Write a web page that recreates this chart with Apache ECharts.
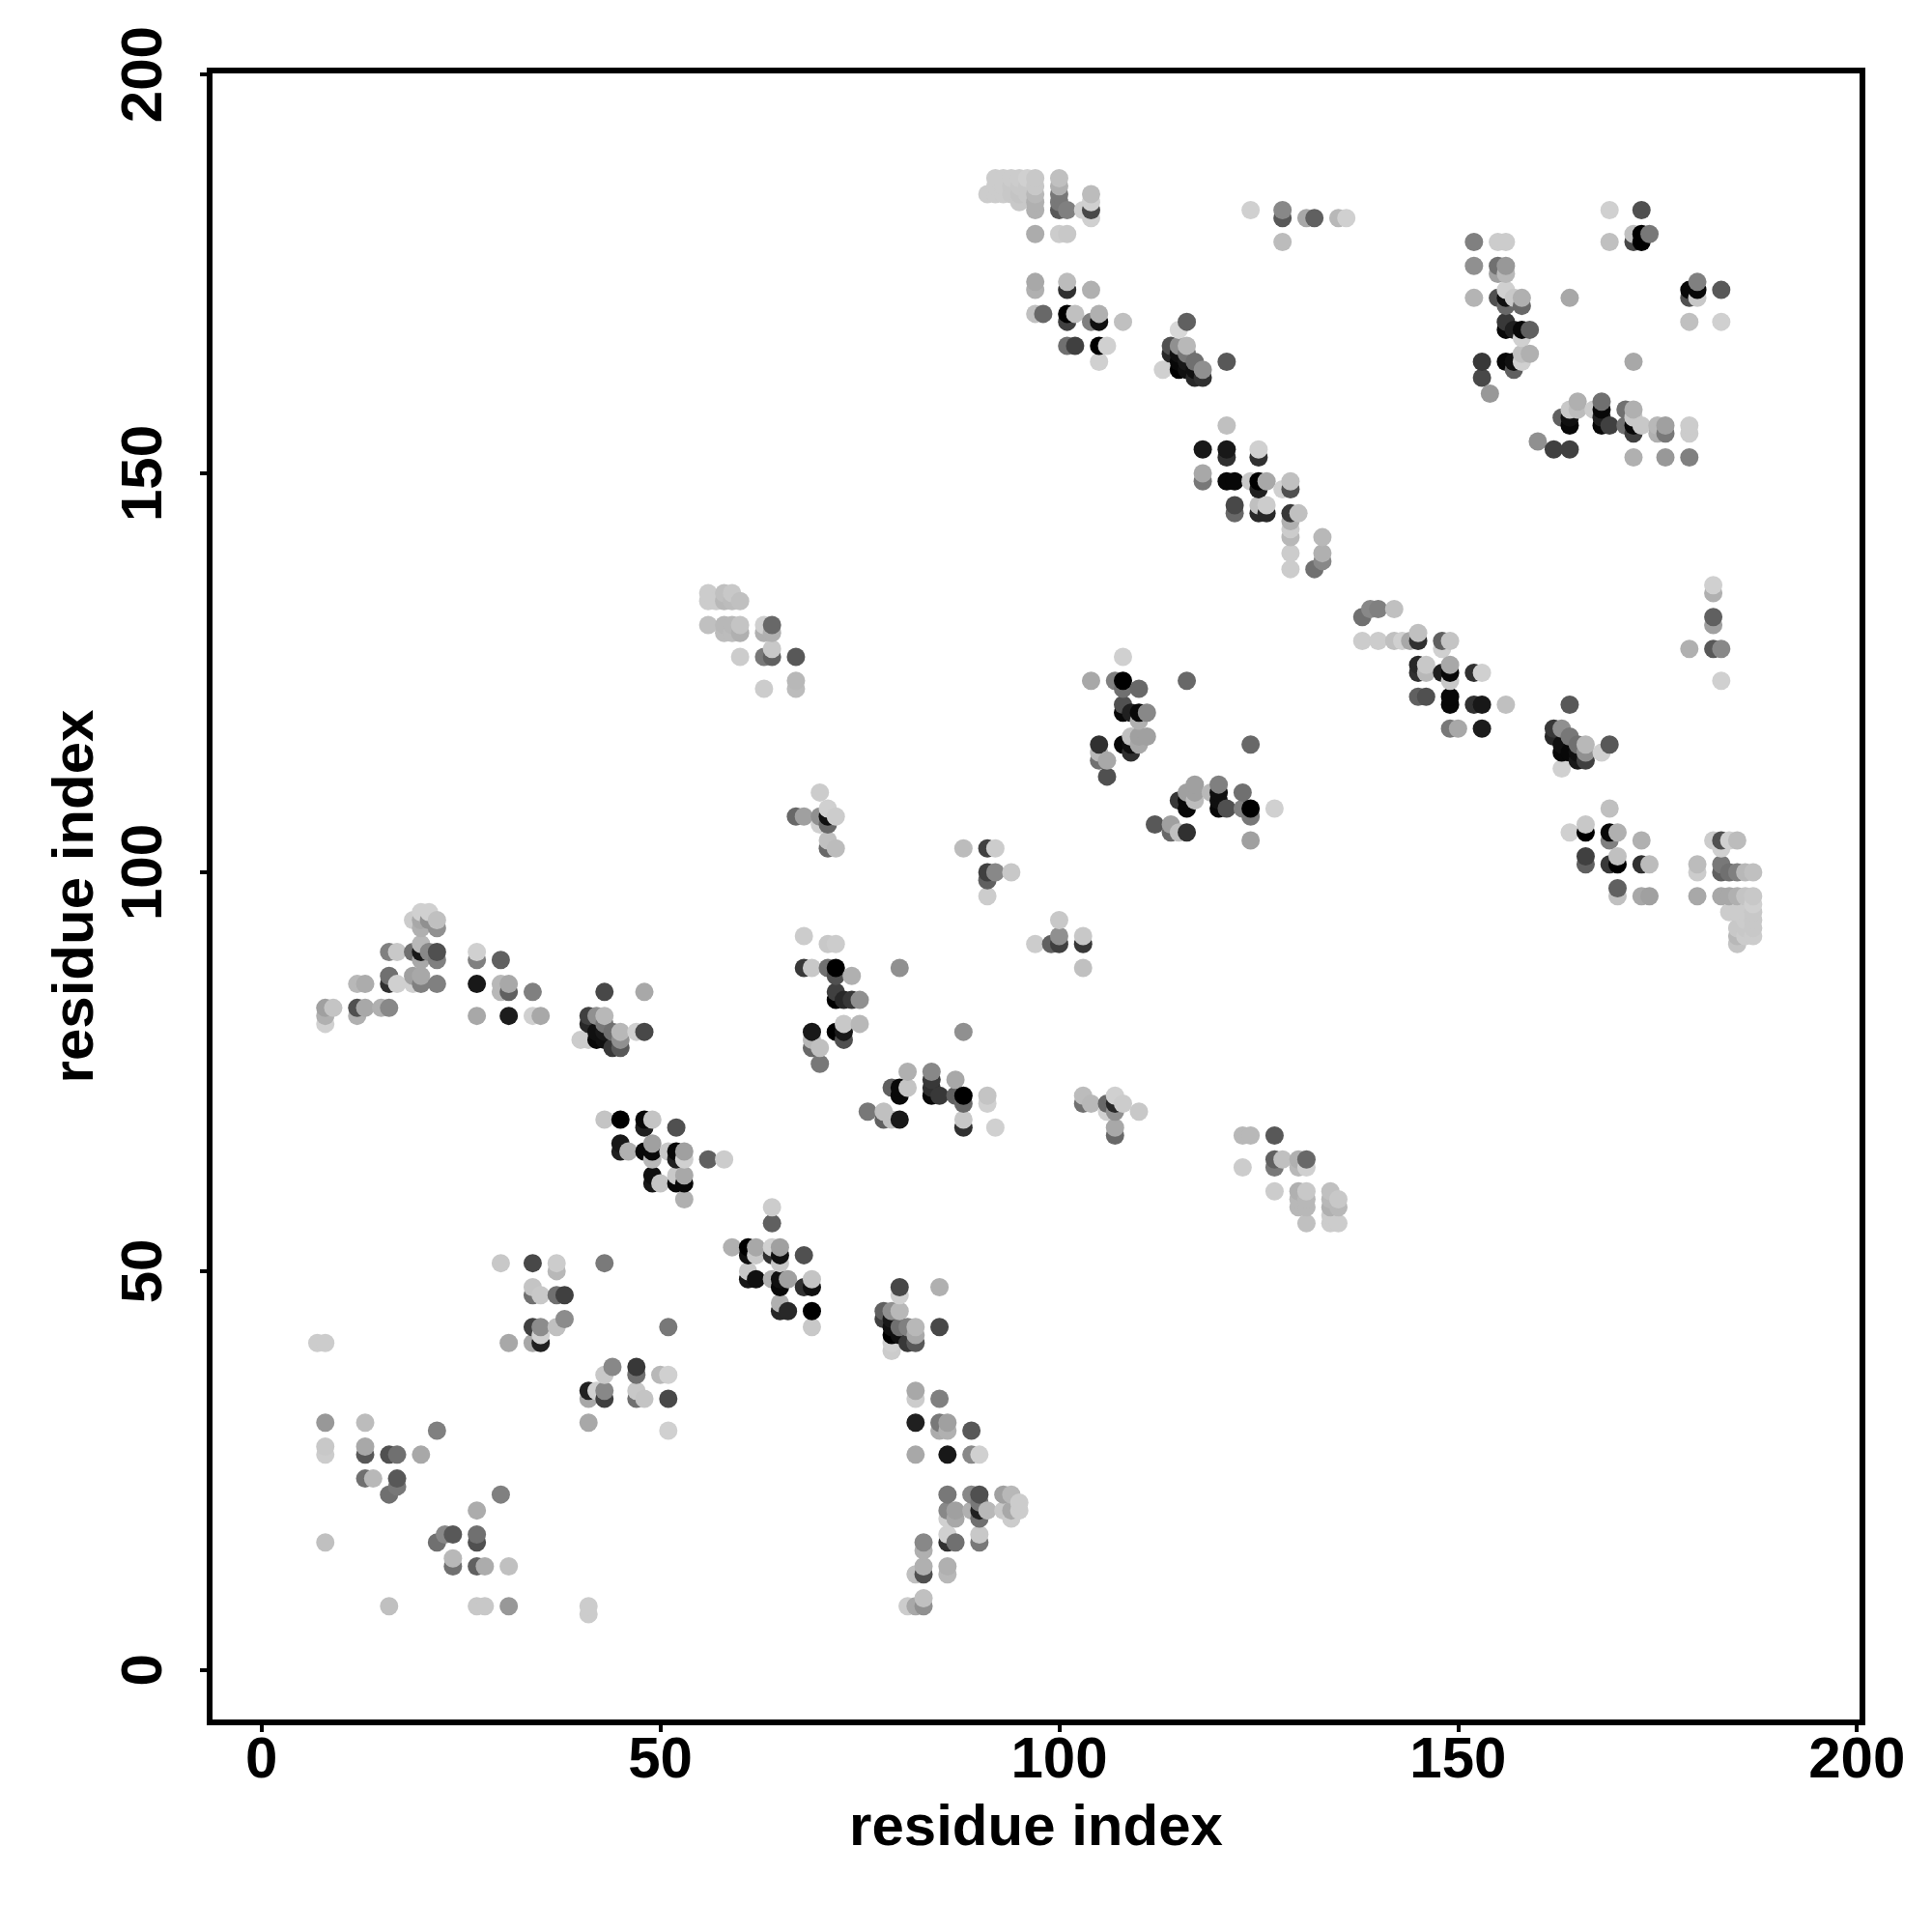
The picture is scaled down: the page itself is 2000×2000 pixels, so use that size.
<!DOCTYPE html>
<html><head><meta charset="utf-8">
<style>html,body{margin:0;background:#fff}#c{width:2000px;height:2000px}</style>
<script src="https://cdn.jsdelivr.net/npm/echarts@6/dist/echarts.min.js"></script></head>
<body><div id="c"></div>
<script>
const tickValues=[0,50,100,150,200];
const axisName='residue index';
// each entry: [residue x, residue y, grey level]
const lowerLeft=[[7,41,0xCC],[8,41,0xCC],[8,31,0x98],[13,31,0xBC],[22,30,0x80],[8,28,0xC8],[8,27,0xCC],[13,27,0x58],[13,28,0xA8],[16,27,0x50],[17,27,0x70],[20,27,0xA8],[13,24,0x70],[14,24,0xB8],[17,23,0x78],[17,24,0x58],[16,22,0x70],[30,22,0x80],[27,20,0xAC],[22,16,0x70],[23,17,0x88],[24,17,0x58],[27,16,0x50],[27,17,0x70],[8,16,0xC0],[24,13,0x70],[24,14,0xB8],[27,13,0x60],[28,13,0xAC],[31,13,0xC0],[16,8,0xC0],[27,8,0xC8],[28,8,0xC8],[31,8,0x98],[41,7,0xCC],[41,8,0xCC]];
const strandA=[[30,51,0xC8],[34,51,0x48],[37,50,0xB8],[37,51,0xCC],[43,51,0x7A],[34,47,0x70],[34,48,0xC4],[35,47,0xC8],[37,47,0x70],[38,47,0x40],[38,44,0x8C],[37,43,0xC0],[34,43,0x40],[35,41,0x20],[35,42,0xD0],[35,43,0x8C],[34,41,0xA8],[31,41,0xA8],[51,43,0x78],[44,38,0x88],[43,37,0xC8],[47,37,0x70],[47,38,0x38],[50,37,0xB8],[51,37,0xD0],[41,34,0xA8],[41,35,0x20],[42,35,0xD0],[43,34,0x40],[43,35,0x88],[47,34,0x70],[47,35,0xC8],[48,34,0xC4],[51,34,0x48],[41,31,0xA8],[51,30,0xD0]];
const strandB=[[64,58,0xCC],[64,56,0x60],[59,53,0xB0],[61,52,0x10],[61,53,0x00],[62,52,0xC8],[62,53,0xA8],[64,52,0x30],[64,53,0xD0],[65,51,0xC8],[65,52,0x10],[65,53,0xA0],[68,52,0x50],[61,49,0x18],[61,50,0xC8],[62,49,0x10],[64,49,0xB0],[65,48,0x08],[65,49,0x10],[66,49,0xA0],[68,48,0x30],[69,48,0x10],[69,49,0xC4],[65,45,0x28],[65,46,0xB0],[66,45,0x28],[69,45,0x00],[69,43,0xC8],[80,47,0xD0],[80,48,0x48],[85,48,0xB0],[78,44,0x40],[78,45,0x60],[79,40,0xCC],[79,41,0xD0],[79,42,0x00],[79,43,0x10],[79,44,0x18],[79,45,0x90],[80,42,0x10],[80,43,0x70],[80,45,0xB8],[81,41,0x38],[81,43,0x80],[82,41,0x58],[82,42,0xA8],[82,43,0xB8],[85,43,0x48]];
const strandC=[[82,34,0xCC],[82,35,0xA8],[85,34,0x80],[82,31,0x20],[85,30,0xAC],[85,31,0x78],[86,30,0xB0],[86,31,0xA0],[89,30,0x58],[82,27,0xA8],[86,27,0x18],[89,27,0x88],[90,27,0xD0],[86,19,0xD0],[86,20,0x88],[86,22,0x78],[87,19,0xA8],[87,20,0xA0],[89,20,0xB0],[89,22,0x88],[90,19,0x70],[90,20,0x20],[90,21,0x78],[90,22,0x50],[91,20,0xB8],[93,20,0xC8],[93,22,0xA0],[94,19,0xCC],[94,20,0xA8],[94,22,0xB8],[95,20,0xCC],[95,21,0xCC],[86,16,0x30],[86,17,0xD0],[87,16,0x70],[90,16,0x78],[90,17,0xC8],[83,15,0xB0],[83,16,0x88],[82,12,0xC0],[83,12,0x50],[83,13,0xB0],[86,12,0xB8],[86,13,0xB0],[81,8,0xCC],[82,8,0xA8],[83,8,0x90],[83,9,0xC0]];
const leftArm=[[8,81,0xD0],[8,82,0xB0],[8,83,0xA0],[9,83,0xC4],[12,82,0xB0],[12,83,0x50],[13,83,0xA8],[15,83,0xB0],[16,83,0x88],[12,86,0xB8],[13,86,0xAC],[16,86,0x30],[16,87,0x70],[17,86,0xD0],[16,90,0x80],[17,90,0xC8],[19,86,0xD0],[19,87,0xA0],[20,86,0x80],[20,87,0xA8],[22,86,0x80],[19,90,0x70],[20,89,0xA8],[20,90,0x18],[20,91,0xB8],[21,90,0x88],[22,89,0x80],[22,90,0x50],[19,94,0xCC],[20,93,0xB0],[20,94,0xA8],[20,95,0xD0],[21,94,0x90],[21,95,0xD0],[22,93,0x90],[22,94,0xC0],[27,89,0x80],[27,90,0xD0],[30,89,0x60],[27,86,0x18],[30,85,0xB8],[30,86,0xB8],[31,85,0x60],[31,86,0xA8],[34,85,0x80],[27,82,0xA8],[31,82,0x1C],[34,82,0xD0],[35,82,0xA8]];
const leftCluster=[[43,85,0x48],[48,85,0xA8],[40,79,0xCC],[41,79,0xCC],[41,81,0x28],[41,82,0x40],[42,79,0x08],[42,80,0x10],[42,82,0x90],[43,79,0x10],[43,80,0x18],[43,81,0x78],[43,82,0xB8],[44,78,0x38],[44,80,0x70],[45,78,0x58],[45,79,0x90],[45,80,0xB8],[47,80,0xD0],[48,80,0x48]];
const midStrand=[[43,69,0xC4],[45,69,0x00],[48,68,0x20],[48,69,0x08],[49,69,0xC4],[52,68,0x50],[45,65,0x20],[45,66,0x18],[46,65,0xB0],[48,65,0x08],[49,64,0xB8],[49,65,0x08],[49,66,0xA0],[51,65,0xC8],[52,64,0x20],[52,65,0x08],[53,64,0xD0],[53,65,0xA0],[56,64,0x60],[58,64,0xCC],[49,61,0x18],[49,62,0x10],[50,61,0xC4],[52,61,0x08],[52,62,0xC8],[53,61,0x08],[53,62,0xA8],[53,59,0xB0]];
const centreHelix=[[68,92,0xCC],[71,91,0xC8],[72,91,0xCC],[68,88,0x38],[69,88,0xC8],[71,88,0x70],[72,87,0x50],[72,88,0x00],[74,87,0xB0],[72,84,0x00],[72,85,0x40],[73,84,0x28],[74,84,0x38],[75,84,0x90],[80,88,0x90],[69,78,0x68],[69,79,0xB8],[69,80,0x18],[70,78,0xC0],[70,76,0x78],[72,80,0x00],[73,79,0x50],[73,80,0x18],[73,81,0xC8],[75,81,0xB8],[88,80,0x90]];
const centreStrand=[[81,75,0xB0],[84,75,0x88],[87,74,0xA8],[84,74,0x38],[79,73,0x60],[80,72,0x08],[80,73,0x08],[81,73,0xC4],[84,72,0x08],[84,73,0x30],[85,72,0x38],[87,72,0x60],[88,71,0x68],[88,72,0x00],[91,71,0xD0],[91,72,0xC4],[76,70,0x78],[78,69,0x60],[78,70,0xC0],[79,69,0xC0],[80,69,0x18],[88,68,0x30],[88,69,0xC8],[92,68,0xD0]];
const midRight=[[97,91,0xCC],[99,91,0x60],[100,91,0x40],[100,92,0x90],[100,94,0xC8],[103,91,0x38],[103,92,0xC8],[103,88,0xC0],[103,71,0x70],[103,72,0xBC],[104,71,0xB8],[106,70,0xD0],[106,71,0x68],[107,70,0x90],[107,71,0x28],[107,72,0xD0],[108,71,0xCC],[110,70,0xC8],[107,67,0x68],[107,68,0xA8]];
const lowerRight=[[123,67,0xB8],[124,67,0xB8],[127,67,0x58],[123,63,0xCC],[127,63,0x78],[127,64,0x60],[128,64,0xC0],[130,63,0xB8],[130,64,0xB0],[131,63,0xD0],[131,64,0x68],[127,60,0xCC],[130,58,0xB8],[130,59,0xB8],[130,60,0xB0],[131,56,0xC0],[131,58,0xB8],[131,59,0xB8],[131,60,0xC8],[134,56,0xCC],[134,57,0xCC],[134,58,0xB0],[134,59,0xB8],[134,60,0xC0],[135,56,0xCC],[135,58,0xB8],[135,59,0xC8]];
const upperLeftPatch=[[56,134,0xCC],[56,135,0xCC],[57,134,0xCC],[58,134,0xB8],[58,135,0xC0],[59,134,0xBC],[59,135,0xC8],[60,134,0xC0],[56,131,0xC0],[58,130,0xBC],[58,131,0xB8],[59,130,0xBC],[59,131,0xB8],[60,130,0xB0],[60,131,0xC4],[63,130,0xB0],[63,131,0xD0],[64,130,0xB0],[64,131,0x68],[64,128,0xC8],[63,127,0x78],[64,127,0x60],[60,127,0xCC],[67,127,0x58],[67,123,0xBC],[67,124,0xB8],[63,123,0xCC]];
const midLeftPatch=[[70,110,0xCC],[67,107,0x68],[68,107,0xA0],[70,106,0xD0],[70,107,0x90],[71,106,0x68],[71,107,0x10],[71,108,0xD0],[72,107,0xCC],[71,103,0x68],[71,104,0xC0],[72,103,0xBC],[88,103,0xBC],[91,103,0x40],[92,103,0xCC],[91,99,0x60],[91,100,0x40],[92,100,0x88],[94,100,0xC8],[91,97,0xCC]];
const centreTop=[[108,127,0xD0],[104,124,0xA8],[107,124,0x80],[108,123,0x70],[108,124,0x00],[110,123,0x68],[116,124,0x68],[108,120,0x08],[108,121,0x50],[109,120,0x20],[110,119,0xB0],[110,120,0x08],[111,120,0x88],[108,116,0x08],[109,115,0x30],[109,116,0x10],[109,117,0xC0],[110,116,0xA8],[110,117,0xA0],[111,117,0xA0],[105,114,0x70],[105,115,0xB8],[105,116,0x30],[106,114,0xA8],[106,112,0x50],[124,116,0x68]];
const centreLow=[[117,111,0xA0],[116,110,0xA0],[117,110,0xA0],[119,110,0xB8],[120,110,0x10],[120,111,0x80],[123,110,0x70],[115,109,0x38],[116,108,0x08],[116,109,0x08],[117,109,0xBC],[120,108,0x08],[120,109,0x10],[121,108,0x50],[123,108,0x80],[124,107,0x78],[124,108,0x00],[127,108,0xD0],[112,106,0x58],[114,105,0x68],[114,106,0xA0],[115,105,0xC0],[116,105,0x30],[124,104,0xA0]];
const diagStrand=[[138,132,0x70],[139,133,0x88],[140,133,0x80],[142,133,0xC0],[138,129,0xCC],[140,129,0xCC],[142,129,0xC0],[143,129,0xD0],[144,129,0xA8],[145,129,0x30],[145,130,0xC0],[148,128,0xD0],[148,129,0x60],[149,129,0xC4],[145,125,0x30],[145,126,0x28],[146,125,0xB8],[146,126,0xC8],[148,125,0x20],[149,124,0xC8],[149,125,0x08],[149,126,0xA8],[152,125,0x30],[153,125,0xD0],[145,122,0x60],[146,122,0x50],[149,121,0x08],[149,122,0x08],[152,121,0x30],[153,121,0x18],[156,121,0xC0],[149,118,0x78],[150,118,0xA8],[153,118,0x1C]];
const rightColumn=[[182,135,0xB0],[182,136,0xD0],[182,131,0xA0],[182,132,0x60],[179,128,0xB0],[182,128,0x58],[183,128,0x88],[183,124,0xD0]];
const rightCluster=[[164,121,0x58],[162,117,0x28],[162,118,0x38],[163,113,0xD0],[163,115,0x08],[163,116,0x10],[163,118,0x90],[164,115,0x08],[164,117,0x78],[165,114,0x18],[165,115,0x10],[165,116,0x70],[166,114,0x40],[166,115,0x90],[166,116,0xB8],[168,115,0xD0],[169,116,0x58]];
const rightLow=[[169,108,0xC0],[164,105,0xD0],[166,105,0x00],[166,106,0xC8],[169,104,0x80],[169,105,0x08],[170,105,0xB0],[173,104,0xB0],[166,101,0x60],[166,102,0x40],[169,101,0x38],[170,101,0x00],[170,102,0xC0],[173,101,0x30],[174,101,0xBC],[170,97,0xC0],[170,98,0x60],[173,97,0xA8],[174,97,0xA0]];
const cornerBlock=[[180,97,0xA8],[180,100,0xCC],[180,101,0xBC],[182,104,0xCC],[183,103,0xD0],[183,104,0x50],[184,104,0xD0],[185,104,0xBC],[183,100,0x60],[183,101,0x78],[184,100,0x70],[185,100,0x80],[186,100,0xB8],[187,100,0xC0],[183,97,0xA8],[184,97,0xA8],[185,97,0xB0],[186,97,0xC4],[187,97,0xC8],[187,96,0xD0],[184,95,0xCC],[185,95,0xCC],[186,95,0xCC],[187,95,0xC8],[186,94,0xCC],[187,94,0xC8],[185,91,0xC4],[185,92,0xB8],[185,93,0xC8],[186,92,0xCC],[186,93,0xC8],[187,92,0xCC],[187,93,0xC8]];
const topLeftBlock=[[91,185,0xCC],[92,185,0xCC],[92,186,0xCC],[92,187,0xCC],[93,185,0xCC],[93,186,0xCC],[93,187,0xCC],[94,185,0xC8],[94,186,0xC8],[94,187,0xCC],[95,184,0xC8],[95,185,0xC4],[95,186,0xC8],[95,187,0xCC],[96,187,0xD0],[96,185,0xC8],[96,186,0xC8],[97,183,0xB0],[97,184,0xB0],[97,185,0xB8],[97,186,0xC8],[97,187,0xC8],[97,180,0xAC],[100,183,0x58],[100,184,0x78],[100,185,0x78],[100,186,0xB0],[100,187,0xC0],[101,183,0x80],[100,180,0xCC],[101,180,0xC8],[103,183,0xD0],[104,182,0xD0],[104,183,0x48],[104,184,0xD0],[104,185,0xBC]];
const topMid=[[97,173,0xB0],[97,174,0xA8],[97,170,0xC0],[98,170,0x68],[101,173,0x30],[101,174,0xBC],[104,173,0xB0],[101,169,0x40],[101,170,0x00],[102,170,0xC0],[104,169,0x80],[105,169,0x10],[105,170,0xB0],[108,169,0xC0],[101,166,0x70],[102,166,0x40],[105,164,0xD0],[105,166,0x00],[106,166,0xD0]];
const topCluster=[[116,169,0x60],[115,168,0xD8],[113,163,0xD0],[114,165,0x28],[114,166,0x50],[115,163,0x00],[115,164,0x08],[115,165,0x10],[115,166,0x90],[116,163,0x10],[116,164,0x18],[116,165,0x78],[116,166,0xB8],[117,162,0x28],[117,163,0x10],[117,164,0x70],[118,162,0x30],[118,163,0x90],[121,164,0x58]];
const upperDiag=[[121,156,0xC0],[118,153,0x18],[121,152,0x30],[121,153,0x18],[125,152,0x30],[125,153,0xD0],[118,149,0x78],[118,150,0xA8],[121,149,0x08],[122,149,0x08],[124,149,0xC8],[125,148,0x20],[125,149,0x00],[126,149,0xA8],[128,148,0xD0],[129,148,0x50],[129,149,0xC0],[122,145,0x68],[122,146,0x48],[125,145,0x28],[125,146,0xC0],[126,145,0x28],[126,146,0xCC],[129,145,0x38],[130,145,0xC0],[129,144,0xB0],[129,143,0xCC],[129,142,0xB8],[129,140,0xCC],[129,138,0xCC],[133,142,0xB8],[133,140,0xB0],[133,139,0x88],[132,138,0x70]];
const topRow=[[124,183,0xD0],[128,182,0x58],[128,183,0x88],[131,182,0xA8],[132,182,0x60],[135,182,0xB8],[136,182,0xD0],[128,179,0xBC]];
const topRight=[[169,183,0xD0],[173,183,0x50],[169,179,0xC0],[172,179,0x48],[172,180,0xC0],[173,179,0x00],[173,180,0x00],[174,180,0x78],[179,172,0x50],[179,173,0x08],[180,172,0xC8],[180,173,0x08],[180,174,0x80],[183,173,0x58],[179,169,0xC0],[183,169,0xD0],[164,172,0xA8],[172,164,0xA8]];
const topRightColumn=[[152,179,0x80],[155,179,0xCC],[156,179,0xCC],[152,176,0x90],[155,175,0xA0],[155,176,0x70],[156,175,0xB8],[156,176,0x98],[152,172,0xB4],[155,172,0x50],[156,171,0x68],[156,172,0x10],[156,173,0xD0],[157,172,0xC8],[158,171,0x68],[158,172,0xB0],[156,168,0x08],[156,169,0x38],[157,168,0x20],[158,167,0xD0],[158,168,0x08],[159,168,0x60],[156,164,0x08],[157,163,0x60],[157,164,0x10],[158,164,0xD0],[158,165,0xC0],[159,165,0xB0],[153,162,0x48],[153,164,0x38],[154,160,0x98]];
const topRightStrand=[[160,154,0x90],[162,153,0x40],[163,157,0x60],[164,153,0x40],[164,156,0x08],[164,157,0x10],[164,158,0xC8],[165,158,0xBC],[165,159,0xB0],[167,158,0xCC],[168,156,0x08],[168,157,0x20],[168,158,0x08],[168,159,0x70],[169,156,0x40],[171,156,0x70],[171,158,0x70],[172,152,0xB0],[172,155,0x40],[172,156,0x08],[172,157,0xC8],[172,158,0xB0],[173,156,0xC8],[175,155,0xB0],[175,156,0xB8],[176,152,0x98],[176,155,0x78],[176,156,0xA0],[179,152,0x80],[179,155,0xCC],[179,156,0xCC]];

const groups=[lowerLeft,strandA,strandB,strandC,leftArm,leftCluster,midStrand,centreHelix,centreStrand,midRight,lowerRight,upperLeftPatch,midLeftPatch,centreTop,centreLow,diagStrand,rightColumn,rightCluster,rightLow,cornerBlock,topLeftBlock,topMid,topCluster,upperDiag,topRow,topRight,topRightColumn,topRightStrand];
const points=groups.flat().sort((a,b)=>a[0]-b[0]||a[1]-b[1]);
const FONT='"Liberation Sans"';
const chart=echarts.init(document.getElementById('c'),null,{renderer:'canvas'});
const axisCommon={type:'value',interval:50,splitLine:{show:false},axisLine:{show:false,onZero:false},
  axisTick:{show:true,length:10,lineStyle:{color:'#000',width:4},customValues:tickValues},
  name:axisName,nameLocation:'middle',
  nameTextStyle:{fontFamily:FONT,fontWeight:'bold',fontSize:60,color:'#000'}};
chart.setOption({animation:false,backgroundColor:'#fff',
  grid:{left:217,right:72,top:73,bottom:217,show:true,borderColor:'#000',borderWidth:6,backgroundColor:'#fff'},
  xAxis:{...axisCommon,min:-6.5,max:200.7,nameGap:80,
    axisLabel:{fontFamily:FONT,fontWeight:'bold',fontSize:60,color:'#000',margin:10,customValues:tickValues}},
  yAxis:{...axisCommon,min:-6.56,max:200.5,nameGap:108,nameRotate:90,
    axisLabel:{fontFamily:FONT,fontWeight:'bold',fontSize:60,color:'#000',rotate:90,margin:67,customValues:tickValues,align:'center',verticalAlign:'middle'}},
  series:[{type:'scatter',symbol:'circle',symbolSize:19,data:points,
    itemStyle:{opacity:1,color:p=>{const g=p.data[2];return 'rgb('+g+','+g+','+g+')';}},
    emphasis:{disabled:true},silent:true}]
});
</script></body></html>
